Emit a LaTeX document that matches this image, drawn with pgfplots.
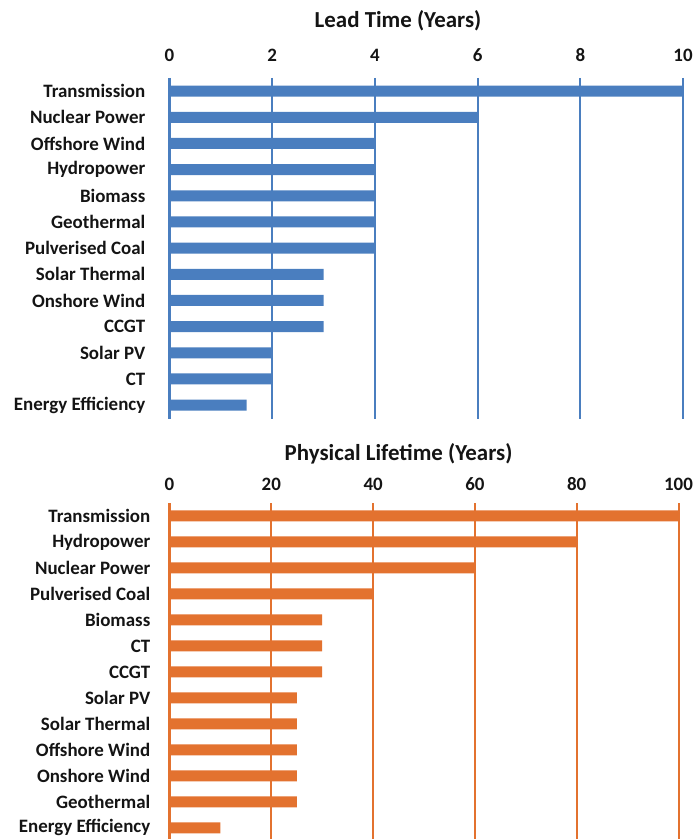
\documentclass[border=0pt]{standalone}
\usepackage{fontspec}
\setmainfont{Carlito}
\usepackage{pgfplots}
\pgfplotsset{compat=1.18}
\definecolor{barblue}{HTML}{4A7EBF}
\definecolor{barorange}{HTML}{E3722F}
\definecolor{txt}{HTML}{141414}
\pgfplotsset{
  mybars/.style={
    scale only axis,
    anchor=south west,
    xbar,
    y dir=reverse,
    ymin=-0.5,
    axis line style={draw=none},
    major tick length=0pt,
    xmajorgrids,
    xticklabel pos=upper,
    ytick={0,...,12},
    /pgf/number format/assume math mode=true,
    tick label style={font=\bfseries\fontsize{19}{19}\selectfont, text=txt},
    xticklabel style={anchor=base, inner sep=0pt},
    yticklabel style={anchor=east, inner sep=0pt},
    bar width=11bp,
    title style={font=\bfseries\fontsize{23}{23}\selectfont, text=txt, anchor=base, inner sep=0pt},
  }
}
\begin{document}
\begin{tikzpicture}
\useasboundingbox (0,0) rectangle (697bp,839bp);
% Top: Lead Time
\begin{axis}[mybars,
  at={(169.5bp,420bp)},
  width=513.5bp, height=341bp,
  xmin=0, xmax=10, xtick={0,2,...,10},
  ymax=12.53,
  grid style={barblue, line width=2bp},
  xticklabel style={yshift=16bp},
  yticklabel style={xshift=-24bp},
  yticklabels={Transmission,Nuclear Power,Offshore Wind,Hydropower,Biomass,Geothermal,Pulverised Coal,Solar Thermal,Onshore Wind,CCGT,Solar PV,CT,Energy Efficiency},
  title={Lead Time (Years)},
  title style={at={(axis description cs:0.445,1)}, yshift=45bp},
]
\addplot[fill=barblue, draw=none] coordinates {
(10,0) (6,1) (4,2) (4,3) (4,4) (4,5) (4,6) (3,7) (3,8) (3,9) (2,10) (2,11) (1.5,12)};
\end{axis}
% Bottom: Physical Lifetime
\begin{axis}[mybars,
  at={(169.5bp,0bp)},
  width=509bp, height=336bp,
  xmin=0, xmax=100, xtick={0,20,...,100},
  ymax=12.43,
  grid style={barorange, line width=2bp},
  xticklabel style={yshift=13bp},
  yticklabel style={xshift=-19bp},
  yticklabels={Transmission,Hydropower,Nuclear Power,Pulverised Coal,Biomass,CT,CCGT,Solar PV,Solar Thermal,Offshore Wind,Onshore Wind,Geothermal,Energy Efficiency},
  title={Physical Lifetime (Years)},
  title style={at={(axis description cs:0.45,1)}, yshift=37bp},
]
\addplot[fill=barorange, draw=none] coordinates {
(100,0) (80,1) (60,2) (40,3) (30,4) (30,5) (30,6) (25,7) (25,8) (25,9) (25,10) (25,11) (10,12)};
\end{axis}
\end{tikzpicture}
\end{document}
